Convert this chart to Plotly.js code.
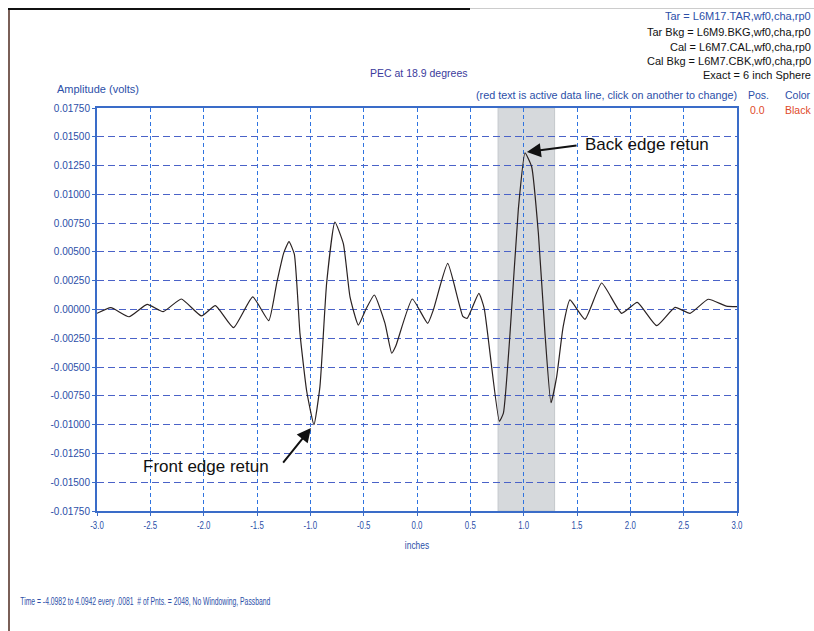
<!DOCTYPE html>
<html>
<head>
<meta charset="utf-8">
<script src="https://cdn.plot.ly/plotly-3.0.1.min.js"></script>
<style>
  html, body { margin: 0; padding: 0; background: #fff; }
  #chart { width: 814px; height: 631px; position: absolute; left: 0; top: 0; }
  .frame-left { position: absolute; left: 8px; top: 8px; width: 0; height: 623px; border-left: 2px solid #7a5f57; pointer-events: none; }
  .frame-top { position: absolute; left: 8px; top: 8px; width: 462px; height: 0; border-top: 2px solid #111; pointer-events: none; }
  .frame-top2 { position: absolute; left: 470px; top: 8px; width: 344px; height: 0; border-top: 1px solid #ccc; pointer-events: none; }
</style>
</head>
<body>
<div id="chart"></div>
<div class="frame-left"></div>
<div class="frame-top"></div>
<div class="frame-top2"></div>
<script>
// ---- data ----
var positionInches = [-3.00, -2.87, -2.70, -2.53, -2.38, -2.21, -2.02, -1.89, -1.72, -1.54, -1.39, -1.315, -1.25, -1.20, -1.15, -1.097, -1.034, -0.966, -0.91, -0.847, -0.77, -0.69, -0.628, -0.55, -0.48, -0.40, -0.30, -0.237, -0.20, -0.044, 0.10, 0.153, 0.288, 0.43, 0.47, 0.58, 0.63, 0.772, 0.81, 0.872, 0.95, 1.0125, 1.075, 1.138, 1.20, 1.256, 1.31, 1.37, 1.434, 1.575, 1.731, 1.918, 2.065, 2.247, 2.419, 2.56, 2.73, 2.90, 3.00];
var amplitudeVolts = [-0.00033, 0.00016, -0.00063, 0.00045, -0.00019, 0.00091, -0.00056, 0.00033, -0.00158, 0.00109, -0.00097, 0.0023, 0.0049, 0.0059, 0.0048, -0.0021, -0.0071, -0.0100, -0.0067, 0.0023, 0.0076, 0.0057, 0.0011, -0.00135, 0.0000, 0.00126, -0.0012, -0.0038, -0.0032, 0.00091, -0.0012, -0.00004, 0.0040, -0.0006, -0.00077, 0.0014, 0.0001, -0.0097, -0.0090, -0.0021, 0.0087, 0.0136, 0.0124, 0.0066, -0.0021, -0.0081, -0.0058, -0.0015, 0.00083, -0.00085, 0.0023, -0.00033, 0.00062, -0.0014, 0.00019, -0.00033, 0.00089, 0.0003, 0.00025];

var xTickValues = [-3.0, -2.5, -2.0, -1.5, -1.0, -0.5, 0.0, 0.5, 1.0, 1.5, 2.0, 2.5, 3.0];
var xTickLabels = ["-3.0", "-2.5", "-2.0", "-1.5", "-1.0", "-0.5", "0.0", "0.5", "1.0", "1.5", "2.0", "2.5", "3.0"];
var yTickValues = [0.0175, 0.015, 0.0125, 0.01, 0.0075, 0.005, 0.0025, 0, -0.0025, -0.005, -0.0075, -0.01, -0.0125, -0.015, -0.0175];
var yTickLabels = ["0.01750", "0.01500", "0.01250", "0.01000", "0.00750", "0.00500", "0.00250", "0.00000", "-0.00250", "-0.00500", "-0.00750", "-0.01000", "-0.01250", "-0.01500", "-0.01750"];

var gateRange = [0.76, 1.29];   // shaded gate (inches)

var headerLines = ["Tar = L6M17.TAR,wf0,cha,rp0", "Tar Bkg = L6M9.BKG,wf0,cha,rp0", "Cal = L6M7.CAL,wf0,cha,rp0", "Cal Bkg = L6M7.CBK,wf0,cha,rp0", "Exact = 6 inch Sphere"];
var headerColors = ["#2c4fa8", "#111111", "#111111", "#111111", "#111111"];

var blue = "#2c4fa8";
var axisBlue = "#3a6cc8";
var arial = "Liberation Sans, Arial, sans-serif";

var trace = {
  x: positionInches, y: amplitudeVolts,
  type: "scatter", mode: "lines",
  line: { color: "#2a2222", width: 1.2, shape: "spline", smoothing: 0.45 },
  hoverinfo: "skip"
};

var annotations = [];
var headerY = [16, 32, 47, 61, 75];
for (var i = 0; i < headerLines.length; i++) {
  annotations.push({
    xref: "paper", yref: "paper",
    x: (813 - 97) / 640, y: (511 - headerY[i]) / 403,
    xanchor: "right", yanchor: "middle",
    text: headerLines[i], showarrow: false,
    font: { family: arial, size: 11, color: headerColors[i] }
  });
}
function paperAnn(px, py, text, anchor, font) {
  annotations.push({
    xref: "paper", yref: "paper",
    x: (px - 97) / 640, y: (511 - py) / 403,
    xanchor: anchor, yanchor: "middle",
    text: text, showarrow: false, font: font
  });
}
paperAnn(418, 73, "PEC at 18.9 degrees", "center", { family: arial, size: 10.5, color: "#3b3b9c" });
paperAnn(55, 89, "Amplitude (volts)", "left", { family: arial, size: 11, color: blue });
paperAnn(474, 95, "(red text is active data line, click on another to change)", "left", { family: arial, size: 10.8, color: blue });
paperAnn(746, 95, "Pos.", "left", { family: arial, size: 10.5, color: blue });
paperAnn(783, 95, "Color", "left", { family: arial, size: 10.5, color: blue });
paperAnn(748, 110, "0.0", "left", { family: arial, size: 10.5, color: "#e04a2a" });
paperAnn(783, 110, "Black", "left", { family: arial, size: 10.5, color: "#e04a2a" });
// condensed footer: centered, squeezed after drawing
paperAnn(145, 601, "Time = -4.0982 to 4.0942 every .0081&nbsp;&nbsp;# of Pnts. = 2048, No Windowing, Passband", "center", { family: arial, size: 10.5, color: blue });

// callouts
annotations.push({ x: 2.156, y: 0.01437, xref: "x", yref: "y", text: "Back edge retun", showarrow: false,
  font: { family: arial, size: 17, color: "#111" } });
annotations.push({ x: 1.03, y: 0.01368, xref: "x", yref: "y", ax: 1.51, ay: 0.01425, axref: "x", ayref: "y",
  text: "", showarrow: true, arrowhead: 2, arrowsize: 1.4, arrowwidth: 2, arrowcolor: "#111" });
annotations.push({ x: -1.978, y: -0.0136, xref: "x", yref: "y", text: "Front edge retun", showarrow: false,
  font: { family: arial, size: 17, color: "#111" } });
annotations.push({ x: -0.994, y: -0.01029, xref: "x", yref: "y", ax: -1.266, ay: -0.01342, axref: "x", ayref: "y",
  text: "", showarrow: true, arrowhead: 2, arrowsize: 1.4, arrowwidth: 2, arrowcolor: "#111" });

var layout = {
  width: 814, height: 631,
  margin: { l: 97, r: 77, t: 108, b: 120 },
  paper_bgcolor: "#ffffff", plot_bgcolor: "#ffffff",
  showlegend: false,
  xaxis: {
    range: [-3, 3], tickvals: xTickValues, ticktext: xTickLabels,
    showgrid: true, gridcolor: "#2f74e0", griddash: "4px,3px", gridwidth: 1,
    zeroline: false, showline: true, linecolor: axisBlue, linewidth: 2, mirror: true,
    ticks: "outside", ticklen: 3, tickcolor: axisBlue,
    tickfont: { family: arial, size: 10.5, color: blue },
    title: { text: "inches", font: { family: arial, size: 10.5, color: blue }, standoff: 12 }
  },
  yaxis: {
    range: [-0.0175, 0.0175], tickvals: yTickValues, ticktext: yTickLabels,
    showgrid: true, gridcolor: "#4a62c8", griddash: "7px,4px", gridwidth: 1,
    zeroline: false, showline: true, linecolor: axisBlue, linewidth: 2, mirror: true,
    ticks: "outside", ticklen: 3, tickcolor: axisBlue,
    tickfont: { family: arial, size: 10, color: blue }
  },
  shapes: [{
    type: "rect", xref: "x", yref: "paper", x0: gateRange[0], x1: gateRange[1], y0: 0, y1: 1,
    fillcolor: "#d6d9dc", line: { color: "#c4c8cc", width: 1 }, layer: "below"
  }],
  annotations: annotations
};

Plotly.newPlot("chart", [trace], layout, { staticPlot: true, displayModeBar: false }).then(function (gd) {
  // squeeze condensed texts (footer, x tick labels, x title) to the narrow face of the original
  gd.querySelectorAll("text").forEach(function (t) {
    if (t.textContent.indexOf("Time =") === 0) {
      t.setAttribute("textLength", "250");
      t.setAttribute("lengthAdjust", "spacingAndGlyphs");
    }
  });
  gd.querySelectorAll(".xtick text").forEach(function (t) {
    var w = t.getComputedTextLength();
    t.setAttribute("textLength", String(w * 0.75));
    t.setAttribute("lengthAdjust", "spacingAndGlyphs");
  });
  gd.querySelectorAll(".g-xtitle text").forEach(function (t) {
    var w = t.getComputedTextLength();
    t.setAttribute("textLength", String(w * 0.8));
    t.setAttribute("lengthAdjust", "spacingAndGlyphs");
  });
});
</script>
</body>
</html>
